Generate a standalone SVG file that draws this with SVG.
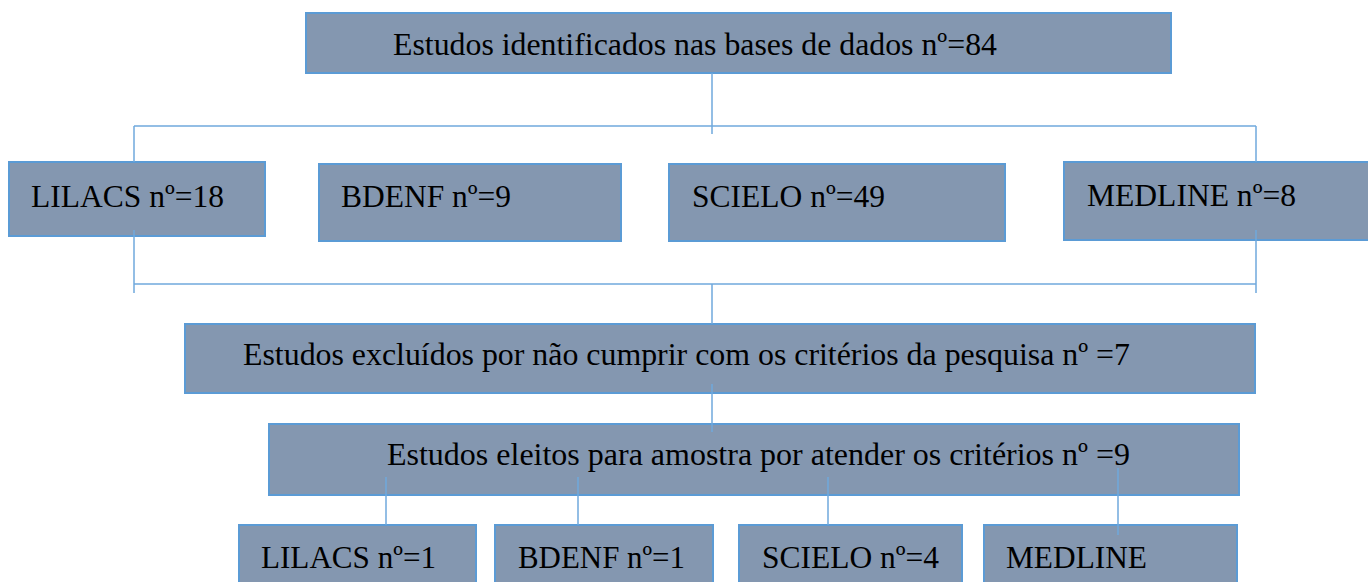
<svg xmlns="http://www.w3.org/2000/svg" width="1368" height="582" viewBox="0 0 1368 582">
<style>
.box{fill:#8497B0;stroke:#5B9BD5;stroke-width:2}
.t{font-family:"Liberation Serif",Tinos,"Times New Roman",Times,"DejaVu Serif","Noto Serif",FreeSerif,serif;font-size:32px;fill:#000}
.c{stroke:#6FA8DC;stroke-width:1.5;fill:none}
</style>
<rect width="1368" height="582" fill="#fff"/>
<g id="n-total"><rect class="box" x="306" y="13" width="865" height="60"/><text class="t" x="393" y="55" textLength="604" lengthAdjust="spacingAndGlyphs">Estudos identificados nas bases de dados nº=84</text></g>
<g id="n-lilacs"><rect class="box" x="9" y="162" width="256" height="74"/><text class="t" x="31" y="207" textLength="193" lengthAdjust="spacingAndGlyphs">LILACS nº=18</text></g>
<g id="n-bdenf"><rect class="box" x="319" y="164" width="302" height="77"/><text class="t" x="341" y="207" textLength="170" lengthAdjust="spacingAndGlyphs">BDENF nº=9</text></g>
<g id="n-scielo"><rect class="box" x="669" y="164" width="336" height="77"/><text class="t" x="692" y="207" textLength="193" lengthAdjust="spacingAndGlyphs">SCIELO nº=49</text></g>
<g id="n-medline"><rect class="box" x="1064" y="162" width="310" height="78"/><text class="t" x="1087" y="206" textLength="209" lengthAdjust="spacingAndGlyphs">MEDLINE nº=8</text></g>
<g id="n-excluded"><rect class="box" x="185" y="324" width="1070" height="69"/><text class="t" x="243" y="365" textLength="887" lengthAdjust="spacingAndGlyphs">Estudos excluídos por não cumprir com os critérios da pesquisa nº =7</text></g>
<g id="n-elected"><rect class="box" x="269" y="424" width="970" height="71"/><text class="t" x="387" y="465" textLength="743" lengthAdjust="spacingAndGlyphs">Estudos eleitos para amostra por atender os critérios nº =9</text></g>
<g id="n-lilacs2"><rect class="box" x="239" y="525" width="237" height="80"/><text class="t" x="261" y="568" textLength="175" lengthAdjust="spacingAndGlyphs">LILACS nº=1</text></g>
<g id="n-bdenf2"><rect class="box" x="495" y="525" width="218" height="80"/><text class="t" x="518" y="568" textLength="167" lengthAdjust="spacingAndGlyphs">BDENF nº=1</text></g>
<g id="n-scielo2"><rect class="box" x="739" y="525" width="223" height="80"/><text class="t" x="762" y="568" textLength="177" lengthAdjust="spacingAndGlyphs">SCIELO nº=4</text></g>
<g id="n-medline2"><rect class="box" x="984" y="525" width="253" height="80"/><text class="t" x="1006" y="568" textLength="141" lengthAdjust="spacingAndGlyphs">MEDLINE</text></g>
<g id="connectors">
<line class="c" x1="712" y1="73" x2="712" y2="134"/>
<line class="c" x1="134" y1="126" x2="1256" y2="126"/>
<line class="c" x1="134" y1="126" x2="134" y2="162"/>
<line class="c" x1="1256" y1="126" x2="1256" y2="162"/>
<line class="c" x1="134" y1="230" x2="134" y2="293"/>
<line class="c" x1="1256" y1="230" x2="1256" y2="293"/>
<line class="c" x1="134" y1="284" x2="1256" y2="284"/>
<line class="c" x1="712" y1="284" x2="712" y2="324"/>
<line class="c" x1="712" y1="384" x2="712" y2="432"/>
<line class="c" x1="386" y1="477" x2="386" y2="525"/>
<line class="c" x1="578" y1="477" x2="578" y2="525"/>
<line class="c" x1="828" y1="477" x2="828" y2="525"/>
<line class="c" x1="1118" y1="468" x2="1118" y2="535"/>
</g>
</svg>
